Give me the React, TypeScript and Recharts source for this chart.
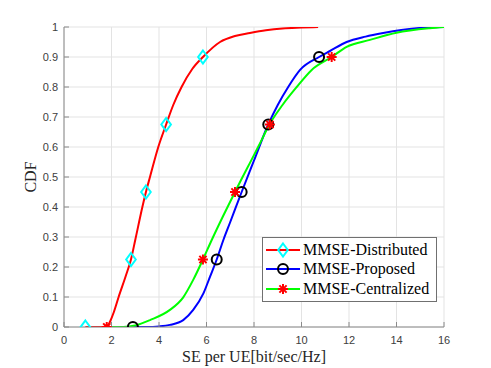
import {
  CartesianGrid,
  ComposedChart,
  Legend,
  Line,
  Scatter,
  XAxis,
  YAxis,
} from 'recharts'

type Pt = { x: number; y: number }

const xTicks = [0, 2, 4, 6, 8, 10, 12, 14, 16]
const yTicks = [0, 0.1, 0.2, 0.3, 0.4, 0.5, 0.6, 0.7, 0.8, 0.9, 1]

// CDF curves
const distributedX = [0.9, 1.8, 1.95, 2.1, 2.3, 2.6, 2.82, 3.0, 3.3, 3.45, 3.62, 3.97, 4.3, 4.6, 4.95, 5.4, 5.85, 6.57, 7.2, 7.83, 8.5, 9.2, 10.0, 10.7]
const distributedCdf = [0, 0, 0.02, 0.05, 0.1, 0.17, 0.225, 0.29, 0.4, 0.45, 0.5, 0.6, 0.675, 0.74, 0.8, 0.86, 0.9, 0.95, 0.97, 0.98, 0.989, 0.995, 0.998, 1]

const proposedX = [2.9, 3.5, 4.0, 4.46, 5.02, 5.44, 5.87, 6.15, 6.43, 6.71, 7.0, 7.48, 8.0, 8.6, 9.0, 9.44, 9.94, 10.74, 11.2, 11.9, 12.7, 13.44, 14.2, 14.85, 16]
const proposedCdf = [0, 0, 0.002, 0.007, 0.023, 0.057, 0.112, 0.168, 0.225, 0.29, 0.35, 0.45, 0.555, 0.675, 0.74, 0.8, 0.857, 0.9, 0.92, 0.95, 0.968, 0.98, 0.99, 0.996, 1]

const centralizedX = [1.8, 2.5, 3.0, 3.62, 4.46, 5.02, 5.44, 5.85, 6.22, 6.7, 7.2, 7.9, 8.2, 8.65, 9.2, 9.8, 10.43, 11.27, 11.9, 12.88, 14.0, 15.4, 16]
const centralizedCdf = [0, 0, 0.005, 0.023, 0.057, 0.099, 0.157, 0.225, 0.29, 0.37, 0.45, 0.558, 0.604, 0.675, 0.74, 0.8, 0.857, 0.9, 0.934, 0.957, 0.981, 0.996, 1]

// marker positions
const markLevels = [0, 0.225, 0.45, 0.675, 0.9]
const distributedMarkX = [0.9, 2.82, 3.45, 4.3, 5.85]
const proposedMarkX = [2.9, 6.43, 7.48, 8.6, 10.74]
const centralizedMarkX = [1.8, 5.85, 7.2, 8.67, 11.27]

const zip = (xs: number[], ys: number[]): Pt[] => xs.map((x, i) => ({ x, y: ys[i] }))

function Diamond({ cx, cy }: any) {
  return (
    <path
      d={`M${cx},${cy - 6.5}L${cx + 4.8},${cy}L${cx},${cy + 6.5}L${cx - 4.8},${cy}Z`}
      fill="none"
      stroke="#00ffff"
      strokeWidth={2}
    />
  )
}

function Ring({ cx, cy }: any) {
  return <circle cx={cx} cy={cy} r={5} fill="none" stroke="#000" strokeWidth={2} />
}

function Star({ cx, cy }: any) {
  const r = 5
  const d = 3.6
  return (
    <path
      d={`M${cx - r},${cy}H${cx + r}M${cx},${cy - r}V${cy + r}M${cx - d},${cy - d}L${cx + d},${cy + d}M${cx - d},${cy + d}L${cx + d},${cy - d}`}
      fill="none"
      stroke="#ff0000"
      strokeWidth={2}
    />
  )
}

const series = [
  { name: 'MMSE-Distributed', color: '#ff0000', curve: zip(distributedX, distributedCdf), marks: zip(distributedMarkX, markLevels), Marker: Diamond },
  { name: 'MMSE-Proposed', color: '#0000ff', curve: zip(proposedX, proposedCdf), marks: zip(proposedMarkX, markLevels), Marker: Ring },
  { name: 'MMSE-Centralized', color: '#00ff00', curve: zip(centralizedX, centralizedCdf), marks: zip(centralizedMarkX, markLevels), Marker: Star },
]

const axisColor = '#8a8a8a'
const tickStyle = { fill: '#404040', fontSize: 11, fontFamily: '"Liberation Sans", Arial, sans-serif' }
const serif = '"Liberation Serif", "Times New Roman", serif'

function renderLegend() {
  return (
    <div style={{ border: '1px solid #707070', background: '#fff', width: 173, height: 61, paddingTop: 2, boxSizing: 'content-box' }}>
      {series.map((s) => (
        <div key={s.name} style={{ display: 'flex', alignItems: 'center', height: 19.5 }}>
          <svg width={40} height={20} style={{ flex: 'none' }}>
            <line x1={3} x2={37} y1={10} y2={10} stroke={s.color} strokeWidth={2} />
            <s.Marker cx={20} cy={10} />
          </svg>
          <span style={{ fontFamily: serif, fontSize: 16, color: '#000', lineHeight: '20px', whiteSpace: 'nowrap' }}>{s.name}</span>
        </div>
      ))}
    </div>
  )
}

function CdfLabel({ viewBox }: any) {
  const x = (viewBox?.x ?? 0) + 30
  const y = (viewBox?.y ?? 27) + (viewBox?.height ?? 300) / 2
  return (
    <text x={x} y={y} transform={`rotate(-90 ${x} ${y})`} textAnchor="middle" dominantBaseline="central" fontFamily={serif} fontSize={16} fill="#262626">
      CDF
    </text>
  )
}

export default function App() {
  return (
    <div style={{ position: 'absolute', left: 0, top: 0, width: 491, height: 368, background: '#fff' }}>
      <ComposedChart width={491} height={368} margin={{ top: 27, right: 47, bottom: 0, left: 0 }}>
        <CartesianGrid stroke="#e3e3e3" />
        <XAxis
          type="number"
          dataKey="x"
          domain={[0, 16]}
          ticks={xTicks}
          allowDataOverflow
          height={41}
          stroke={axisColor}
          tickSize={-5}
          tickMargin={14}
          tick={tickStyle}
          label={{ value: 'SE per UE[bit/sec/Hz]', position: 'insideBottom', offset: 6, fontFamily: serif, fontSize: 16, fill: '#262626' }}
        />
        <XAxis xAxisId="top" orientation="top" type="number" dataKey="x" domain={[0, 16]} ticks={xTicks} height={0} stroke={axisColor} tickSize={-5} tick={false} />
        <YAxis
          type="number"
          dataKey="y"
          domain={[0, 1]}
          ticks={yTicks}
          allowDataOverflow
          width={64}
          stroke={axisColor}
          tickSize={-5}
          tickMargin={11}
          tick={tickStyle}
          tickFormatter={(v: number) => String(v)}
          label={CdfLabel}
        />
        <YAxis yAxisId="right" orientation="right" type="number" domain={[0, 1]} ticks={yTicks} width={0} stroke={axisColor} tickSize={-5} tick={false} />
        {series.flatMap((s) => [
          <Line
            key={s.name + '-line'}
            data={s.curve}
            dataKey="y"
            type="monotone"
            stroke={s.color}
            strokeWidth={2}
            dot={false}
            activeDot={false}
            isAnimationActive={false}
          />,
          <Scatter key={s.name + '-marks'} data={s.marks} dataKey="y" shape={s.Marker} isAnimationActive={false} />,
        ])}
        <Legend
          layout="vertical"
          align="center"
          verticalAlign="middle"
          content={renderLegend}
          wrapperStyle={{ left: 262, top: 237, width: 175, height: 63 }}
        />
      </ComposedChart>
    </div>
  )
}
